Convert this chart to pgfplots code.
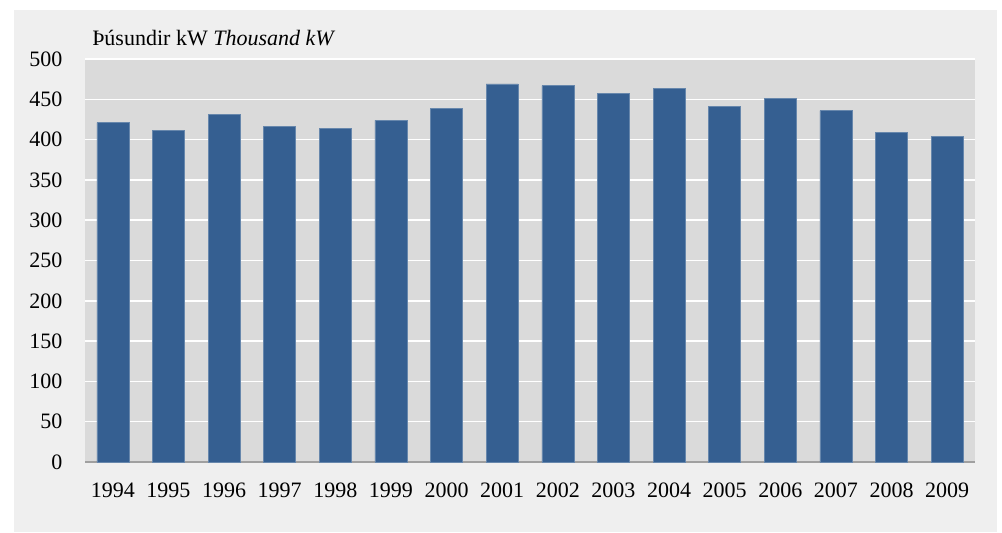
\documentclass[border=0pt]{standalone}
\usepackage{pgfplots}
\pgfplotsset{compat=1.18}
\usepackage{fontspec}
\setmainfont{Liberation Serif}
\definecolor{panel}{HTML}{EFEFEF}
\definecolor{plotbg}{HTML}{DADADA}
\definecolor{barcol}{HTML}{355F91}
\definecolor{axcol}{HTML}{A0A0A0}
\begin{document}
\begin{tikzpicture}[x=1pt,y=1pt]
\useasboundingbox (0,0) rectangle (751.5,399);
\fill[white] (0,0) rectangle (751.5,399);
\fill[panel] (10.5,0) rectangle (747.75,391.5);
\node[anchor=base west, inner sep=0pt, font=\fontsize{16.5}{19}\selectfont] at (69,364.5) {Þúsundir kW \textit{Thousand kW}};
\begin{axis}[
  at={(63.75pt,52.5pt)}, anchor=south west,
  scale only axis, width=667.5pt, height=302.25pt,
  xmin=-0.5, xmax=15.5, ymin=0, ymax=500,
  ytick={0,50,...,500},
  xtick={0,...,15},
  xticklabels={1994,1995,1996,1997,1998,1999,2000,2001,2002,2003,2004,2005,2006,2007,2008,2009},
  major tick length=0pt,
  ymajorgrids, grid style={white, line width=1.1pt},
  axis background/.style={fill=plotbg},
  axis x line*=bottom, axis y line*=left,
  x axis line style={axcol, line width=1.6pt, -},
  y axis line style={draw=none},
  separate axis lines,
  tick label style={font=\fontsize{16.5}{19}\selectfont},
  /pgf/number format/assume math mode=true,
  yticklabel style={inner sep=0pt, anchor=east, xshift=-16.7pt},
  xticklabel style={inner sep=0pt, anchor=center, yshift=-21.5pt},
  axis on top=false,
  clip=false,
]
\addplot[ybar, bar width=24pt, fill=barcol, draw=barcol!75!white, line width=0.4pt] coordinates {
(0,421) (1,411) (2,431) (3,416) (4,414) (5,424) (6,439) (7,469)
(8,467) (9,457) (10,464) (11,441) (12,451) (13,436) (14,409) (15,404)
};
\end{axis}
\end{tikzpicture}
\end{document}
